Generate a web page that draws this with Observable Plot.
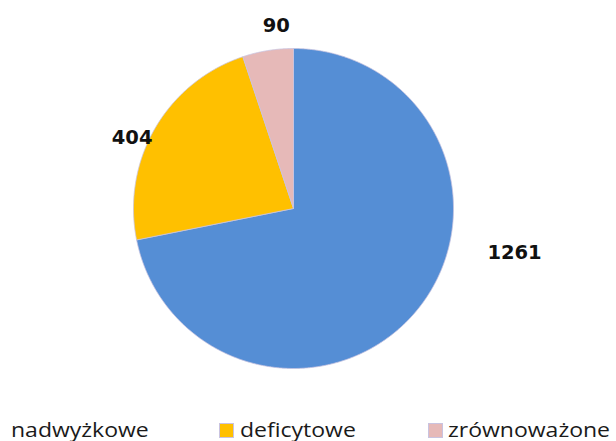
<!DOCTYPE html>
<html>
<head>
<meta charset="utf-8">
<script src="https://cdn.jsdelivr.net/npm/d3@7"></script>
<script src="https://cdn.jsdelivr.net/npm/@observablehq/plot@0.6"></script>
<style>
  html, body { margin: 0; padding: 0; background: #fff; overflow: hidden; }
  #wrap { position: relative; width: 616px; height: 441px; overflow: hidden; font-family: "Open Sans", Lato, sans-serif; }
  #legend { position: absolute; left: 0; top: 400px; width: 616px; height: 41px; }
  .item { position: absolute; top: 16px; font-size: 20px; color: #1a1a1a; white-space: nowrap; line-height: 28px; transform: scaleX(1.15); transform-origin: 0 0; }
  .sw { position: absolute; top: 23px; width: 15px; height: 15px; box-sizing: border-box; border: 1px solid #c9c3e0; }
</style>
</head>
<body>
<div id="wrap">
  <div id="chart"></div>
  <div id="legend"></div>
</div>
<script>
const categories = ["nadwyżkowe", "deficytowe", "zrównoważone"];
const values = [1261, 404, 90];
const colors = ["#558ED5", "#FFC000", "#E6B9B8"];

const pie = d3.pie().sort(null).value(d => d.value);
const rows = categories.map((c, i) => ({name: c, value: values[i], color: colors[i]}));
const arcs = pie(rows);

// polygon points for each slice (angles clockwise from top)
const pts = [];
for (const a of arcs) {
  const steps = Math.max(4, Math.ceil((a.endAngle - a.startAngle) / 0.005));
  pts.push({name: a.data.name, x: 0, y: 0});
  for (let k = 0; k <= steps; k++) {
    const t = a.startAngle + (a.endAngle - a.startAngle) * k / steps;
    pts.push({name: a.data.name, x: Math.sin(t), y: Math.cos(t)});
  }
  pts.push({name: a.data.name, x: 0, y: 0});
}

const labels = arcs.map(a => {
  const m = (a.startAngle + a.endAngle) / 2;
  return {name: a.data.name, value: a.data.value, x: 1.18 * Math.sin(m), y: 1.18 * Math.cos(m)};
});

const W = 616, H = 400, R = 160, CX = 293, CY = 208;
const lab = {fontSize: 19.5, fontWeight: "bold", fill: "#111", fontFamily: "'DejaVu Sans', sans-serif"};
const plot = Plot.plot({
  width: W, height: H,
  margin: 0,
  x: {domain: [-CX / R, (W - CX) / R], axis: null},
  y: {domain: [-(H - CY) / R, CY / R], axis: null},
  color: {domain: categories, range: colors},
  style: {fontFamily: "'Open Sans', Lato, sans-serif"},
  marks: [
    Plot.line(pts, {x: "x", y: "y", z: "name", fill: "name", stroke: "#c8c3e0", strokeWidth: 0.8, curve: "linear"}),
    Plot.text(labels.filter(d => d.name === "zrównoważone"), {x: "x", y: "y", text: d => String(d.value), ...lab, dx: 13, dy: 4}),
    Plot.text(labels.filter(d => d.name === "deficytowe"), {x: "x", y: "y", text: d => String(d.value), ...lab, dx: 2, dy: 24}),
    Plot.text(labels.filter(d => d.name === "nadwyżkowe"), {x: "x", y: "y", text: d => String(d.value), ...lab, dx: 75, dy: -75})
  ]
});
document.getElementById("chart").appendChild(plot);

const legendPos = [{sw: -16, tx: 11}, {sw: 219, tx: 240}, {sw: 428, tx: 448}];
const lg = document.getElementById("legend");
categories.forEach((c, i) => {
  const s = document.createElement("div");
  s.className = "sw"; s.style.left = legendPos[i].sw + "px"; s.style.background = colors[i];
  lg.appendChild(s);
  const t = document.createElement("div");
  t.className = "item"; t.style.left = legendPos[i].tx + "px"; t.textContent = c;
  lg.appendChild(t);
});
</script>
</body>
</html>
